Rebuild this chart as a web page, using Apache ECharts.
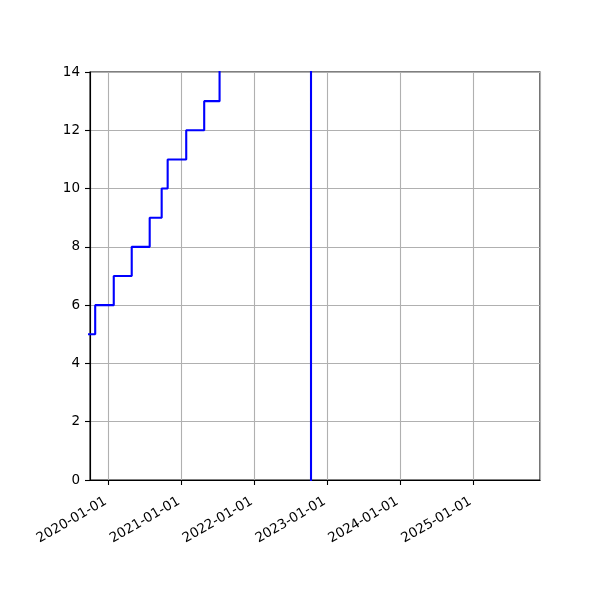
<!DOCTYPE html>
<html>
<head>
<meta charset="utf-8">
<script src="https://cdn.jsdelivr.net/npm/echarts@6/dist/echarts.min.js"></script>
<style>html,body{margin:0;padding:0;background:#fff;}#c{width:600px;height:600px;}</style>
</head>
<body>
<div id="c"></div>
<script>
// Step dates and values (values above 14 / below 0 fall outside the visible range)
const stepDates = ['2019-09-01','2019-10-27','2020-01-28','2020-04-27','2020-07-26','2020-09-24','2020-10-24','2021-01-25','2021-04-25','2021-07-11','2022-10-12','2025-12-31'];
const stepValues = [5, 6, 7, 8, 9, 10, 11, 12, 13, 15, -1, -1];
const xMin = '2019-10-01';
const xMax = '2025-12-02';
const yTicks = [0, 2, 4, 6, 8, 10, 12, 14];

const chart = echarts.init(document.getElementById('c'), null, {renderer: 'canvas'});
const DAY = 24 * 3600 * 1000;
const seriesData = stepDates.map((d, i) => [d, stepValues[i]]);
const font = 'DejaVu Sans';
chart.setOption({
  animation: false,
  backgroundColor: '#fff',
  grid: {left: 90, right: 60, top: 72, bottom: 120, show: true, borderColor: '#000', borderWidth: 1.1, backgroundColor: 'transparent'},
  xAxis: {
    type: 'time',
    min: xMin,
    max: xMax,
    minInterval: 365 * DAY,
    maxInterval: 366 * DAY,
    axisLine: {show: true, lineStyle: {color: '#000', width: 1.1}},
    axisTick: {show: true, length: 5, lineStyle: {color: '#000', width: 1.1}},
    minorTick: {show: false},
    axisLabel: {
      rotate: 30,
      fontFamily: font,
      fontSize: 13.5,
      color: '#000',
      margin: 19,
      padding: [0, 3, 0, 0],
      hideOverlap: false,
      formatter: (v) => {
        const d = new Date(v);
        const m = String(d.getMonth() + 1).padStart(2, '0');
        const dd = String(d.getDate()).padStart(2, '0');
        return d.getFullYear() + '-' + m + '-' + dd;
      }
    },
    splitLine: {show: true, lineStyle: {color: '#b0b0b0', width: 1.1}}
  },
  yAxis: {
    type: 'value',
    min: yTicks[0],
    max: yTicks[yTicks.length - 1],
    interval: 2,
    axisLine: {show: true, lineStyle: {color: '#000', width: 1.1}},
    axisTick: {show: true, length: 5, lineStyle: {color: '#000', width: 1.1}},
    axisLabel: {fontFamily: font, fontSize: 13.5, color: '#000', margin: 10},
    splitLine: {show: true, lineStyle: {color: '#b0b0b0', width: 1.1}}
  },
  series: [{
    type: 'line',
    step: 'end',
    data: seriesData,
    showSymbol: false,
    symbol: 'none',
    clip: true,
    lineStyle: {color: '#0000ff', width: 2.1},
    itemStyle: {color: '#0000ff'}
  }]
});
</script>
</body>
</html>
